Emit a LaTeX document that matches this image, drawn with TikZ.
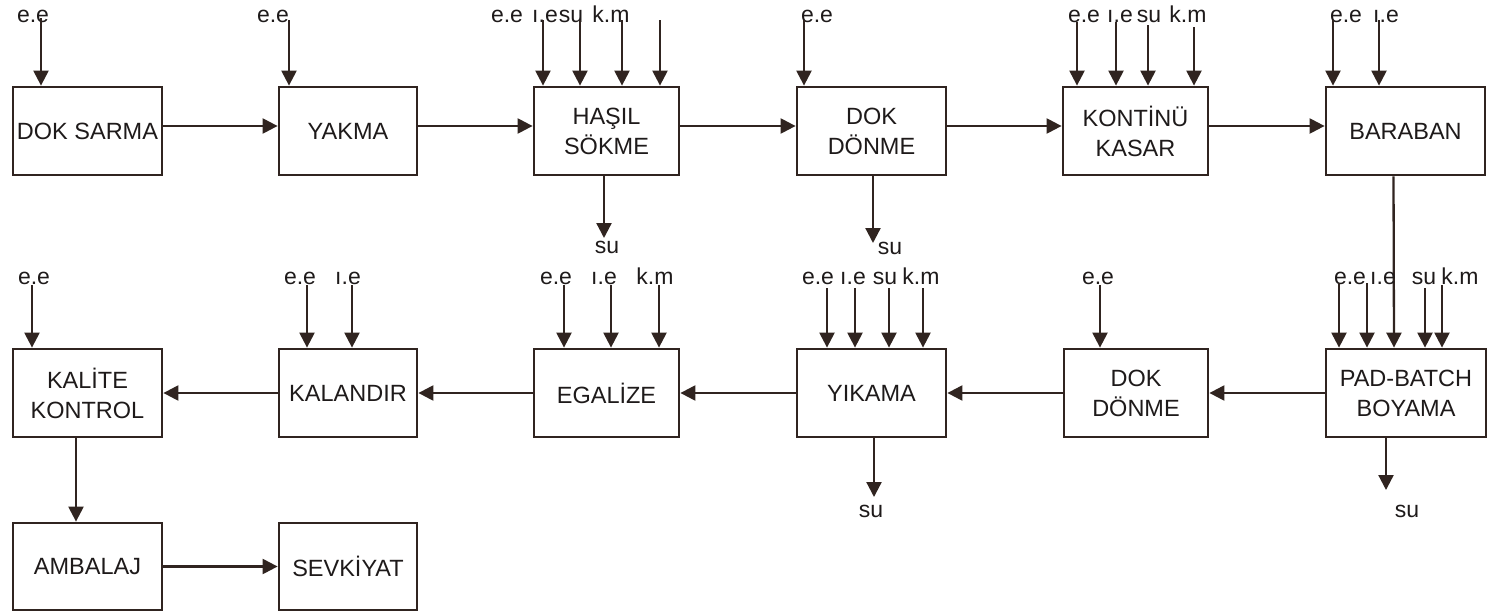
\documentclass[tikz,border=0pt]{standalone}
\usepackage{fontspec}
\setmainfont{Liberation Sans}
\usetikzlibrary{arrows.meta}
\definecolor{ink}{RGB}{48,36,32}
\definecolor{txt}{RGB}{30,26,26}
\tikzset{
  box/.style={draw=ink, line width=2.8pt, rectangle, align=center, text=txt,
    font=\fontsize{23.5}{30}\selectfont, inner sep=0pt},
  arr/.style={draw=ink, line width=2.3pt, -{Triangle[width=15pt,length=15pt]}, fill=ink},
  lab/.style={anchor=base, text=txt, font=\fontsize{23}{27}\selectfont, inner sep=0pt},
}
\begin{document}
\begin{tikzpicture}[x=1pt,y=-1pt]
\useasboundingbox (0,0) rectangle (1488,613);
% ---- row 1 boxes
\node[box, minimum width=149pt, minimum height=88pt] (ds)  at (87.5,131) {DOK SARMA};
\node[box, minimum width=138pt, minimum height=88pt] (yk)  at (348,131) {YAKMA};
\node[box, minimum width=145pt, minimum height=88pt] (hs)  at (606.5,131) {HAŞIL\\SÖKME};
\node[box, minimum width=149pt, minimum height=88pt] (dd1) at (871.5,131) {DOK\\DÖNME};
\node[box, minimum width=145pt, minimum height=88pt] (kk)  at (1135.5,131) {KONTİNÜ\\KASAR};
\node[box, minimum width=159pt, minimum height=88pt] (bb)  at (1405.5,131) {BARABAN};
% ---- row 2 boxes
\node[box, minimum width=149pt, minimum height=88pt] (kt)  at (87.5,393) {KALİTE\\KONTROL};
\node[box, minimum width=138pt, minimum height=88pt] (kl)  at (348,393) {KALANDIR};
\node[box, minimum width=145pt, minimum height=88pt] (eg)  at (606.5,393) {EGALİZE};
\node[box, minimum width=149pt, minimum height=88pt] (yi)  at (871.5,393) {YIKAMA};
\node[box, minimum width=144pt, minimum height=88pt] (dd2) at (1136,393) {DOK\\DÖNME};
\node[box, minimum width=160pt, minimum height=88pt] (pb)  at (1406,393) {PAD-BATCH\\BOYAMA};
% ---- row 3 boxes
\node[box, minimum width=149pt, minimum height=87pt] (am)  at (87.5,566.5) {AMBALAJ};
\node[box, minimum width=138pt, minimum height=87pt] (sv)  at (348,566.5) {SEVKİYAT};

% ---- main flow
\draw[arr] ([yshift=5pt]ds.east) -- ([yshift=5pt]yk.west);
\draw[arr] ([yshift=5pt]yk.east) -- ([yshift=5pt]hs.west);
\draw[arr] ([yshift=5pt]hs.east) -- ([yshift=5pt]dd1.west);
\draw[arr] ([yshift=5pt]dd1.east) -- ([yshift=5pt]kk.west);
\draw[arr] ([yshift=5pt]kk.east) -- ([yshift=5pt]bb.west);
\draw[arr] ([xshift=-12pt]bb.south) -- ([xshift=-12pt]pb.north);
\draw[arr] (pb.west) -- (dd2.east);
\draw[arr] (dd2.west) -- (yi.east);
\draw[arr] (yi.west) -- (eg.east);
\draw[arr] (eg.west) -- (kl.east);
\draw[arr] (kl.west) -- (kt.east);
\draw[arr] ([xshift=-11.5pt]kt.south) -- ([xshift=-11.5pt]am.north);
\draw[arr] (am.east) -- (sv.west);

% ---- row 1 input labels
\node[lab] (l1)  at (33,23) {e.e};
\node[lab] (l2)  at (273,23) {e.e};
\node[lab] (l3)  at (507,23) {e.e};
\node[lab] (l4)  at (545,23) {ı.e};
\node[lab] (l5)  at (571,23) {su};
\node[lab] (l6)  at (611,23) {k.m};
\node[lab] (l7)  at (817,23) {e.e};
\node[lab] (l8)  at (1084,23) {e.e};
\node[lab] (l9)  at (1120,23) {ı.e};
\node[lab] (l10) at (1149,23) {su};
\node[lab] (l11) at (1188,23) {k.m};
\node[lab] (l12) at (1346,23) {e.e};
\node[lab] (l13) at (1386,23) {ı.e};
% ---- row 1 input arrows
\coordinate (a1)  at (41,18);
\coordinate (a2)  at (289,20);
\coordinate (a3)  at (543,20);
\coordinate (a4)  at (580,20);
\coordinate (a5)  at (622,20);
\coordinate (a6)  at (660,20);
\coordinate (a7)  at (804,20);
\coordinate (a8)  at (1077,22);
\coordinate (a9)  at (1116,22);
\coordinate (a10) at (1148,25);
\coordinate (a11) at (1194,27);
\coordinate (a12) at (1333,20);
\coordinate (a13) at (1379,20);
\draw[arr] (a1) -- (a1 |- ds.north);
\draw[arr] (a2) -- (a2 |- yk.north);
\draw[arr] (a3) -- (a3 |- hs.north);
\draw[arr] (a4) -- (a4 |- hs.north);
\draw[arr] (a5) -- (a5 |- hs.north);
\draw[arr] (a6) -- (a6 |- hs.north);
\draw[arr] (a7) -- (a7 |- dd1.north);
\draw[arr] (a8) -- (a8 |- kk.north);
\draw[arr] (a9) -- (a9 |- kk.north);
\draw[arr] (a10) -- (a10 |- kk.north);
\draw[arr] (a11) -- (a11 |- kk.north);
\draw[arr] (a12) -- (a12 |- bb.north);
\draw[arr] (a13) -- (a13 |- bb.north);

% ---- row 1 outputs
\coordinate (o1) at (604,238);
\coordinate (o2) at (873,243);
\draw[arr] (o1 |- hs.south) -- (o1);
\draw[arr] (o2 |- dd1.south) -- (o2);
\node[lab] (s1) at (607,253) {su};
\node[lab] (s2) at (890,254) {su};

% ---- row 2 input labels
\node[lab] (m1)  at (34,284) {e.e};
\node[lab] (m2)  at (300,284) {e.e};
\node[lab] (m3)  at (348,284) {ı.e};
\node[lab] (m4)  at (556,284) {e.e};
\node[lab] (m5)  at (604,284) {ı.e};
\node[lab] (m6)  at (655,284) {k.m};
\node[lab] (m7)  at (818,284) {e.e};
\node[lab] (m8)  at (853,284) {ı.e};
\node[lab] (m9)  at (885,284) {su};
\node[lab] (m10) at (921,284) {k.m};
\node[lab] (m11) at (1098,284) {e.e};
\node[lab] (m12) at (1350,284) {e.e};
\node[lab] (m13) at (1383,284) {ı.e};
\node[lab] (m14) at (1424,284) {su};
\node[lab] (m15) at (1460,284) {k.m};
% ---- row 2 input arrows
\coordinate (b1)  at (32,285);
\coordinate (b2)  at (307,285);
\coordinate (b3)  at (352,285);
\coordinate (b4)  at (564,285);
\coordinate (b5)  at (611,285);
\coordinate (b6)  at (659,285);
\coordinate (b7)  at (827,288);
\coordinate (b8)  at (855,288);
\coordinate (b9)  at (889,288);
\coordinate (b10) at (923,288);
\coordinate (b11) at (1100,285);
\coordinate (b12) at (1339,283);
\coordinate (b13) at (1367,283);
\coordinate (b14) at (1425,288);
\coordinate (b15) at (1442,285);
\draw[arr] (b1) -- (b1 |- kt.north);
\draw[arr] (b2) -- (b2 |- kl.north);
\draw[arr] (b3) -- (b3 |- kl.north);
\draw[arr] (b4) -- (b4 |- eg.north);
\draw[arr] (b5) -- (b5 |- eg.north);
\draw[arr] (b6) -- (b6 |- eg.north);
\draw[arr] (b7) -- (b7 |- yi.north);
\draw[arr] (b8) -- (b8 |- yi.north);
\draw[arr] (b9) -- (b9 |- yi.north);
\draw[arr] (b10) -- (b10 |- yi.north);
\draw[arr] (b11) -- (b11 |- dd2.north);
\draw[arr] (b12) -- (b12 |- pb.north);
\draw[arr] (b13) -- (b13 |- pb.north);
\draw[arr] (b14) -- (b14 |- pb.north);
\draw[arr] (b15) -- (b15 |- pb.north);

% ---- row 2 outputs
\coordinate (o3) at (874,497);
\coordinate (o4) at (1386,490);
\draw[arr] (o3 |- yi.south) -- (o3);
\draw[arr] (o4 |- pb.south) -- (o4);
\node[lab] (s3) at (871,517) {su};
\node[lab] (s4) at (1407,517) {su};
\end{tikzpicture}
\end{document}
